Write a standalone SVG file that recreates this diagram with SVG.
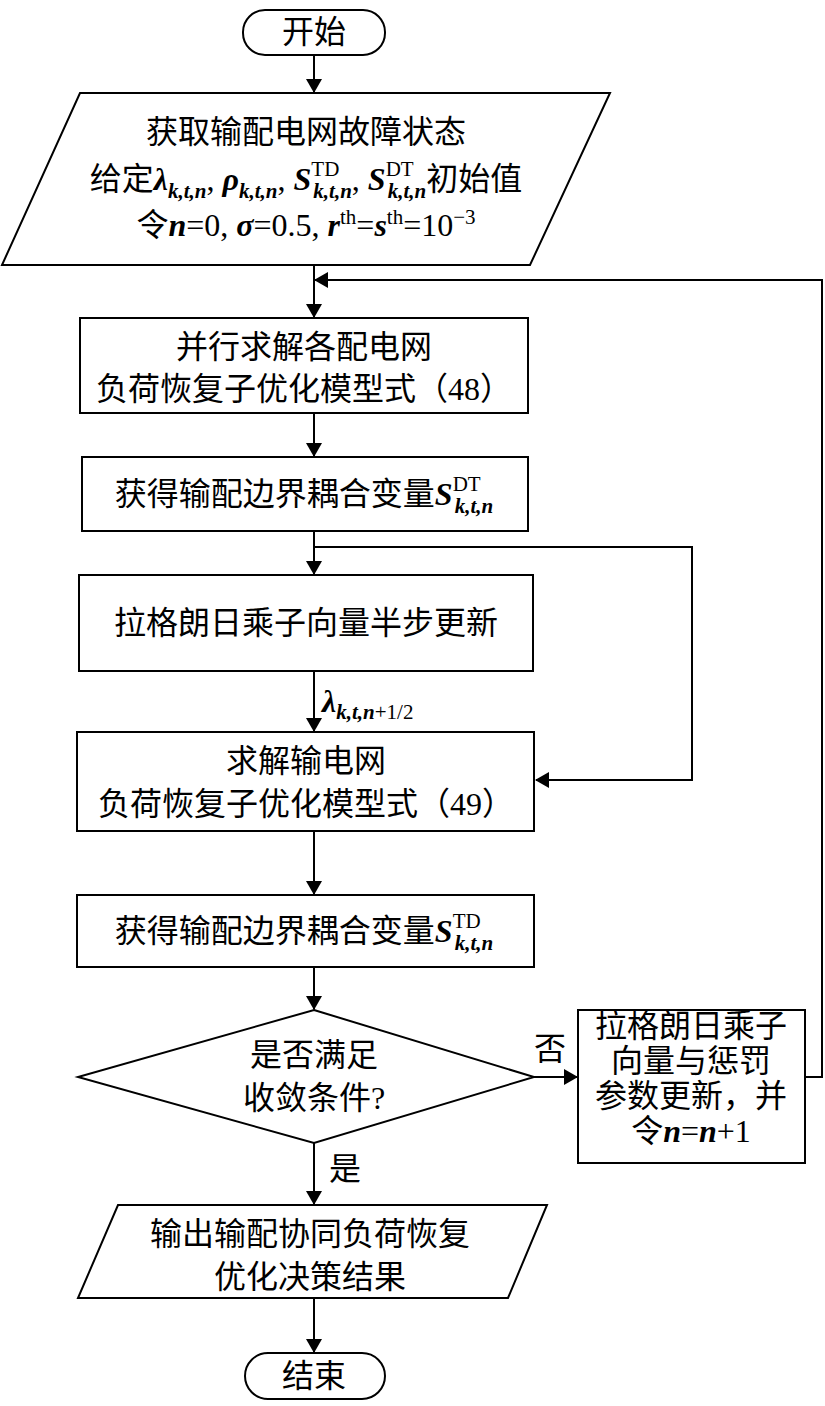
<svg xmlns="http://www.w3.org/2000/svg" width="825" height="1406" viewBox="0 0 825 1406">
<defs>
<marker id="ah" markerWidth="14" markerHeight="16" refX="13" refY="8" orient="auto" markerUnits="userSpaceOnUse"><path d="M0,0 L14,8 L0,16 Z" fill="#000"/></marker>
<style>
.s{fill:#fff;stroke:#000;stroke-width:2}
.c{fill:none;stroke:#000;stroke-width:2}
text{font-family:"Liberation Serif","Noto Sans CJK SC",serif;font-size:32px;fill:#000;text-anchor:middle}
.m{font-style:italic;font-weight:bold}
.sb{font-size:21px}
</style>
</defs>
<g id="connectors">
<line class="c" x1="314" y1="55" x2="314" y2="92" marker-end="url(#ah)"/>
<line class="c" x1="314" y1="265" x2="314" y2="317" marker-end="url(#ah)"/>
<polyline class="c" points="805,1077 822,1077 822,280 315,280" marker-end="url(#ah)"/>
<line class="c" x1="314" y1="413" x2="314" y2="456" marker-end="url(#ah)"/>
<line class="c" x1="314" y1="531" x2="314" y2="574" marker-end="url(#ah)"/>
<polyline class="c" points="314,547 692,547 692,780 536,780" marker-end="url(#ah)"/>
<line class="c" x1="314" y1="671" x2="314" y2="731" marker-end="url(#ah)"/>
<line class="c" x1="314" y1="831" x2="314" y2="894" marker-end="url(#ah)"/>
<line class="c" x1="314" y1="967" x2="314" y2="1009" marker-end="url(#ah)"/>
<line class="c" x1="534" y1="1077" x2="577" y2="1077" marker-end="url(#ah)"/>
<line class="c" x1="314" y1="1143" x2="314" y2="1204" marker-end="url(#ah)"/>
<line class="c" x1="314" y1="1298" x2="314" y2="1352" marker-end="url(#ah)"/>
<text x="322" y="712" style="text-anchor:start"><tspan class="m">λ</tspan><tspan class="m sb" dy="7">k,t,n</tspan><tspan class="sb">+1/2</tspan></text>
<text x="550" y="1060">否</text>
<text x="345" y="1180">是</text>
</g>
<g id="start"><rect class="s" x="243" y="10" width="142" height="45" rx="22"/><text x="314" y="43">开始</text></g>
<g id="input"><polygon class="s" points="80,93 610,93 530,265 2,265"/>
<text x="306" y="143">获取输配电网故障状态</text>
<text x="306" y="190">给定<tspan class="m">λ</tspan><tspan class="m sb" dy="8">k,t,n</tspan><tspan dy="-8">, </tspan><tspan class="m">ρ</tspan><tspan class="m sb" dy="8">k,t,n</tspan><tspan dy="-8">, </tspan><tspan class="m">S</tspan><tspan class="sb" dy="-14">TD</tspan><tspan class="m sb" dx="-26" dy="22">k,t,n</tspan><tspan dy="-8">, </tspan><tspan class="m">S</tspan><tspan class="sb" dy="-14">DT</tspan><tspan class="m sb" dx="-26" dy="22">k,t,n</tspan><tspan dy="-8">初始值</tspan></text>
<text x="306" y="236">令<tspan class="m">n</tspan>=0, <tspan class="m">σ</tspan>=0.5, <tspan class="m">r</tspan><tspan class="sb" dy="-12">th</tspan><tspan dy="12">=</tspan><tspan class="m">s</tspan><tspan class="sb" dy="-12">th</tspan><tspan dy="12">=10</tspan><tspan class="sb" dy="-12">−3</tspan></text></g>
<g id="box1"><rect class="s" x="80" y="318" width="448" height="95"/><text x="304" y="358">并行求解各配电网</text><text x="304" y="400">负荷恢复子优化模型式（48）</text></g>
<g id="box2"><rect class="s" x="82" y="457" width="446" height="74"/><text x="304" y="505">获得输配边界耦合变量<tspan class="m">S</tspan><tspan class="sb" dy="-14">DT</tspan><tspan class="m sb" dx="-26" dy="22">k,t,n</tspan></text></g>
<g id="box3"><rect class="s" x="79" y="575" width="454" height="96"/><text x="306" y="634">拉格朗日乘子向量半步更新</text></g>
<g id="box4"><rect class="s" x="77" y="732" width="457" height="99"/><text x="306" y="772">求解输电网</text><text x="306" y="815">负荷恢复子优化模型式（49）</text></g>
<g id="box5"><rect class="s" x="77" y="895" width="457" height="72"/><text x="304" y="942">获得输配边界耦合变量<tspan class="m">S</tspan><tspan class="sb" dy="-14">TD</tspan><tspan class="m sb" dx="-26" dy="22">k,t,n</tspan></text></g>
<g id="decision"><polygon class="s" points="314,1010 534,1077 314,1143 78,1077"/><text x="314" y="1066">是否满足</text><text x="314" y="1109">收敛条件?</text></g>
<g id="update"><rect class="s" x="578" y="1010" width="227" height="153"/><text x="691" y="1037">拉格朗日乘子</text><text x="691" y="1072">向量与惩罚</text><text x="691" y="1107">参数更新，并</text><text x="691" y="1142">令<tspan class="m">n</tspan>=<tspan class="m">n</tspan>+1</text></g>
<g id="output"><polygon class="s" points="118,1205 547,1205 508,1298 78,1298"/><text x="310" y="1245">输出输配协同负荷恢复</text><text x="310" y="1288">优化决策结果</text></g>
<g id="end"><rect class="s" x="245" y="1353" width="140" height="46" rx="23"/><text x="314" y="1387">结束</text></g>
</svg>
